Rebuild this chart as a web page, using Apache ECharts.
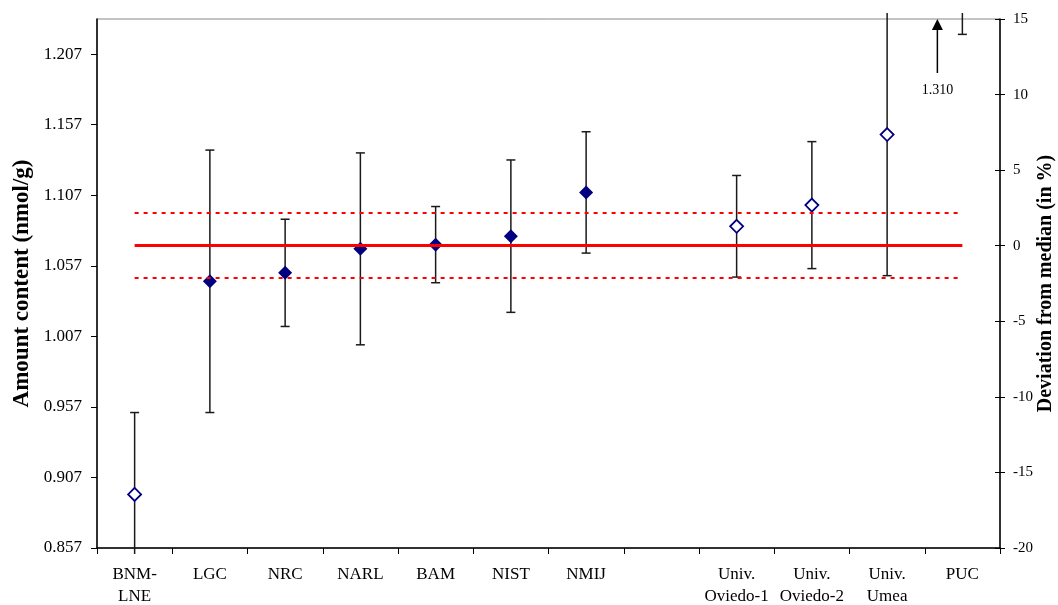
<!DOCTYPE html>
<html>
<head>
<meta charset="utf-8">
<script src="https://cdn.jsdelivr.net/npm/echarts@6/dist/echarts.min.js"></script>
<style>
  html, body { margin: 0; padding: 0; background: #fff; overflow: hidden; }
  #main { width: 1058px; height: 605px; }
</style>
</head>
<body>
<div id="main"></div>
<script>
  // labs on the x axis (blank slot between NMIJ and the universities)
  var labs = ['BNM-\nLNE', 'LGC', 'NRC', 'NARL', 'BAM', 'NIST', 'NMIJ', '',
              'Univ.\nOviedo-1', 'Univ.\nOviedo-2', 'Univ.\nUmea', 'PUC'];
  // amount content (nmol/g) and its uncertainty range
  var amount  = [0.895, 1.046, 1.052, 1.069, 1.072, 1.078, 1.109, null, 1.085, 1.100, 1.150, 1.310];
  var errLow  = [0.837, 0.953, 1.014, 1.001, 1.045, 1.024, 1.066, null, 1.049, 1.055, 1.050, 1.221];
  var errHigh = [0.953, 1.139, 1.090, 1.137, 1.099, 1.132, 1.152, null, 1.121, 1.145, 1.250, 1.399];
  var hollow  = [true, false, false, false, false, false, false, false, true, true, true, false];

  // median and the dotted band around it
  var median = 1.07125;
  var bandLow = 1.0482;
  var bandHigh = 1.0943;

  // axes
  var leftTicks = [0.857, 0.907, 0.957, 1.007, 1.057, 1.107, 1.157, 1.207];
  var leftMax = 1.2319;
  var pctMin = -20, pctMax = 15, pctStep = 5;

  var font = "'Liberation Serif', 'Times New Roman', serif";
  var navy = '#000080';

  var myChart = echarts.init(document.getElementById('main'), null, { width: 1058, height: 605 });

  function drawErrorBar(params, api) {
    var cs = params.coordSys;
    var i = api.value(0);
    var top = api.coord([i, api.value(2)]);
    var bot = api.coord([i, api.value(1)]);
    var x = top[0];
    var y1 = Math.max(top[1], cs.y - 6);
    var y2 = Math.min(bot[1], cs.y + cs.height + 6);
    var style = { stroke: '#1a1a1a', lineWidth: 1.5 };
    var kids = [{ type: 'line', shape: { x1: x, y1: y1, x2: x, y2: y2 }, style: style }];
    if (top[1] >= cs.y) {
      kids.push({ type: 'line', shape: { x1: x - 4.5, y1: top[1], x2: x + 4.5, y2: top[1] }, style: style });
    }
    if (bot[1] <= cs.y + cs.height) {
      kids.push({ type: 'line', shape: { x1: x - 4.5, y1: bot[1], x2: x + 4.5, y2: bot[1] }, style: style });
    }
    return { type: 'group', children: kids };
  }

  // arrow for the value that is off the top of the chart
  function drawOffChart(params, api) {
    var cs = params.coordSys;
    var p = api.coord([api.value(0), leftMax]);
    var x = p[0] - 25;
    var top = cs.y;
    return {
      type: 'group',
      children: [
        { type: 'line', shape: { x1: x, y1: top + 10, x2: x, y2: top + 54 },
          style: { stroke: '#000', lineWidth: 1.5 } },
        { type: 'polygon', shape: { points: [[x, top], [x - 5.5, top + 11], [x + 5.5, top + 11]] },
          style: { fill: '#000' } },
        { type: 'text', x: x, y: top + 71,
          style: { text: api.value(1).toFixed(3), fontSize: 14, fontFamily: font, fill: '#000',
                   align: 'center', verticalAlign: 'middle' } }
      ]
    };
  }

  var errData = [];
  var filledData = [];
  var hollowData = [];
  for (var i = 0; i < labs.length; i++) {
    if (amount[i] == null) { filledData.push(null); hollowData.push(null); continue; }
    errData.push([i, errLow[i], errHigh[i]]);
    filledData.push(hollow[i] ? null : amount[i]);
    hollowData.push(hollow[i] ? amount[i] : null);
  }
  var last = labs.length - 1;

  var option = {
    animation: false,
    textStyle: { fontFamily: font },
    grid: {
      left: 97, right: 58, top: 19, bottom: 57,
      outerBoundsMode: 'none',
      show: true, borderColor: '#888', borderWidth: 1
    },
    xAxis: {
      type: 'category',
      data: labs,
      boundaryGap: true,
      axisLine: { onZero: false, lineStyle: { color: '#000', width: 1.5 } },
      axisTick: { show: true, interval: 0, length: 6, lineStyle: { color: '#000' } },
      axisLabel: { interval: 0, margin: 16, fontSize: 17, lineHeight: 22, color: '#000', fontFamily: font },
      splitLine: { show: false }
    },
    yAxis: [
      {
        type: 'value',
        position: 'left',
        min: leftTicks[0],
        max: leftMax,
        name: 'Amount content (nmol/g)',
        nameLocation: 'middle',
        nameRotate: 90,
        nameGap: 63,
        nameMoveOverlap: false,
        nameTextStyle: { fontSize: 23, fontWeight: 'bold', color: '#000', fontFamily: font },
        axisLine: { show: true, lineStyle: { color: '#000', width: 1.5 } },
        axisTick: { show: true, length: 6, customValues: leftTicks, lineStyle: { color: '#000' } },
        axisLabel: {
          customValues: leftTicks,
          formatter: function (v) { return v.toFixed(3); },
          fontSize: 17, margin: 15, color: '#000', fontFamily: font
        },
        splitLine: { show: false }
      },
      {
        type: 'value',
        position: 'right',
        min: pctMin,
        max: pctMax,
        interval: pctStep,
        name: 'Deviation from median (in %)',
        nameLocation: 'middle',
        nameRotate: 90,
        nameGap: 36,
        nameMoveOverlap: false,
        nameTextStyle: { fontSize: 20, fontWeight: 'bold', color: '#000', fontFamily: font },
        axisLine: { show: true, lineStyle: { color: '#000', width: 1.5 } },
        axisTick: { show: true, length: 5, lineStyle: { color: '#000' } },
        axisLabel: { fontSize: 15, margin: 13, color: '#000', fontFamily: font },
        splitLine: { show: false }
      },
      {
        type: 'value',
        position: 'right',
        min: pctMin,
        max: pctMax,
        interval: pctStep,
        axisLine: { show: false },
        axisTick: { show: true, inside: true, length: 5, lineStyle: { color: '#000' } },
        axisLabel: { show: false },
        splitLine: { show: false }
      }
    ],
    series: [
      {
        type: 'custom',
        name: 'uncertainty',
        renderItem: drawErrorBar,
        encode: { x: 0, y: [1, 2] },
        data: errData,
        z: 1
      },
      {
        type: 'line',
        name: 'median',
        data: [],
        z: 2,
        markLine: {
          silent: true,
          symbol: ['none', 'none'],
          label: { show: false },
          data: [
            [{ coord: [0, median], lineStyle: { color: '#ff0000', width: 3, type: 'solid' } },
             { coord: [last, median] }],
            [{ coord: [0, bandHigh], lineStyle: { color: '#ff0000', width: 2, type: [4, 5] } },
             { coord: [last, bandHigh] }],
            [{ coord: [0, bandLow], lineStyle: { color: '#ff0000', width: 2, type: [4, 5] } },
             { coord: [last, bandLow] }]
          ]
        }
      },
      {
        type: 'scatter',
        name: 'NMI',
        symbol: 'diamond',
        symbolSize: 14,
        itemStyle: { color: navy, opacity: 1 },
        data: filledData,
        z: 3
      },
      {
        type: 'scatter',
        name: 'University',
        symbol: 'diamond',
        symbolSize: 13,
        itemStyle: { color: '#fff', borderColor: navy, borderWidth: 1.8, opacity: 1 },
        data: hollowData,
        z: 3
      },
      {
        type: 'custom',
        name: 'off chart',
        renderItem: drawOffChart,
        data: [[last, amount[last]]],
        z: 3
      }
    ]
  };

  myChart.setOption(option);
</script>
</body>
</html>
